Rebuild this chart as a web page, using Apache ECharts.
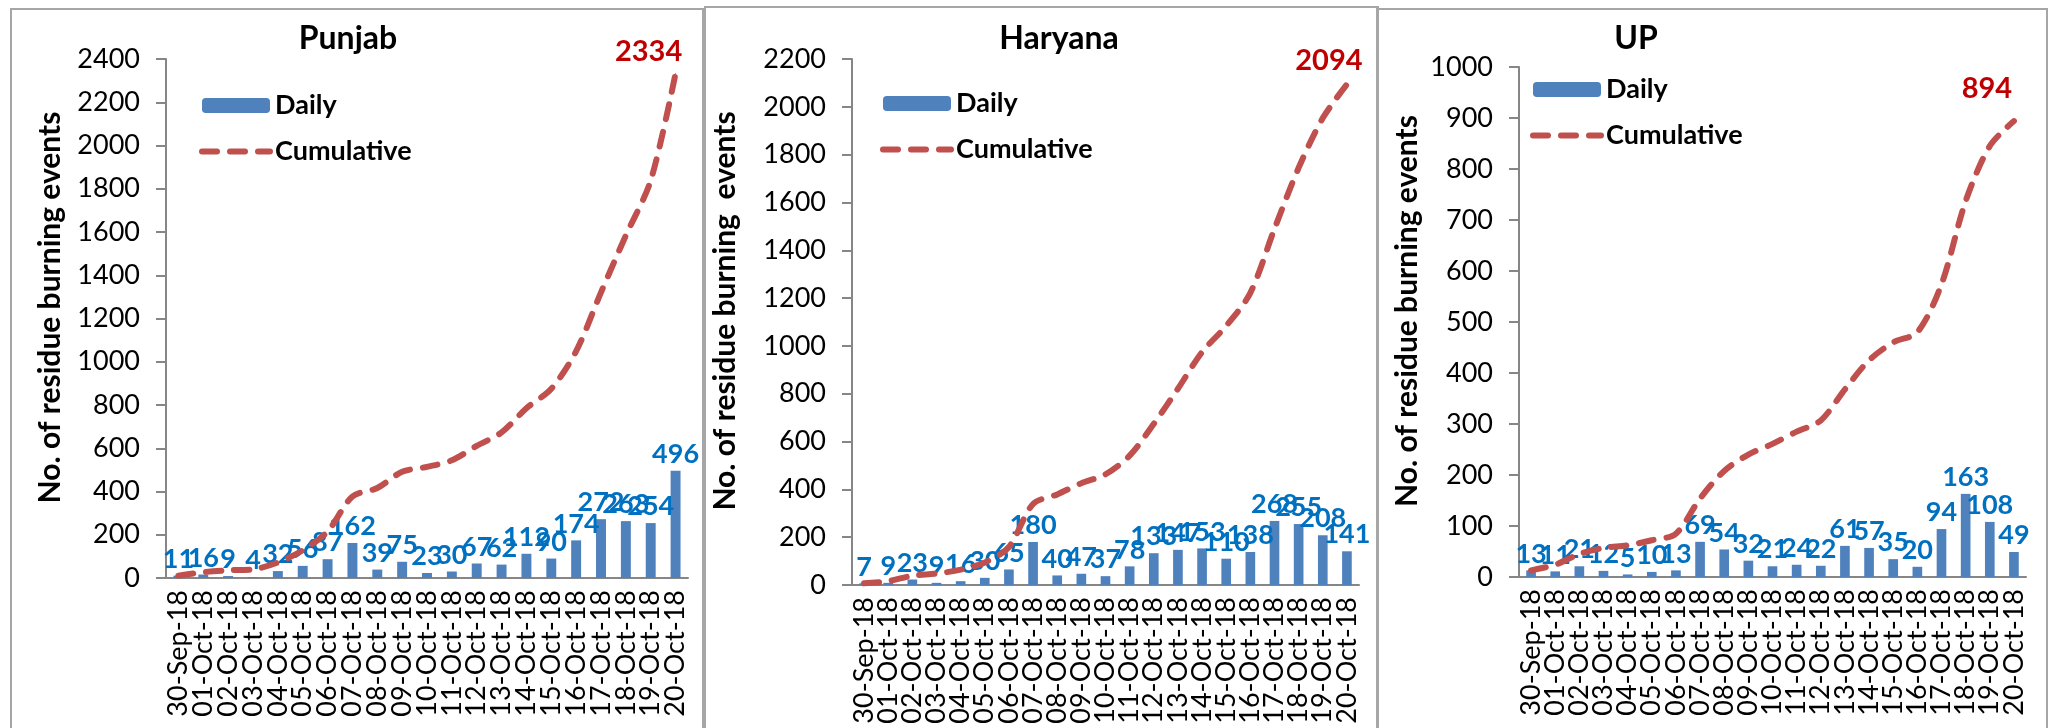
<!DOCTYPE html>
<html lang="en">
<head>
<meta charset="UTF-8">
<title>Residue burning events</title>
<script src="https://cdn.jsdelivr.net/npm/echarts@6/dist/echarts.min.js"></script>
<style>
	html, body { margin: 0; padding: 0; background: #fff; }
	#myChart { width: 2053px; height: 728px; }
</style>
</head>
<body>
<div id="myChart"></div>
<script>
	// x axis dates (same for all three states)
	var dates = ['30-Sep-18', '01-Oct-18', '02-Oct-18', '03-Oct-18', '04-Oct-18', '05-Oct-18', '06-Oct-18',
		'07-Oct-18', '08-Oct-18', '09-Oct-18', '10-Oct-18', '11-Oct-18', '12-Oct-18', '13-Oct-18',
		'14-Oct-18', '15-Oct-18', '16-Oct-18', '17-Oct-18', '18-Oct-18', '19-Oct-18', '20-Oct-18'];

	// daily events
	var punjabDaily = [11, 16, 9, 4, 32, 56, 87, 162, 39, 75, 23, 30, 67, 62, 112, 90, 174, 272, 263, 254, 496];
	var haryanaDaily = [7, 9, 23, 9, 16, 30, 65, 180, 40, 47, 37, 78, 133, 147, 153, 110, 138, 268, 255, 208, 141];
	var upDaily = [13, 11, 21, 12, 5, 10, 13, 69, 54, 32, 21, 24, 22, 61, 57, 35, 20, 94, 163, 108, 49];

	// cumulative events
	var punjabCumulative = [11, 27, 36, 40, 72, 128, 215, 377, 416, 491, 514, 544, 611, 673, 785, 875, 1049, 1321, 1584, 1838, 2334];
	var haryanaCumulative = [7, 16, 39, 48, 64, 94, 159, 339, 379, 426, 463, 541, 674, 821, 974, 1084, 1222, 1490, 1745, 1953, 2094];
	var upCumulative = [13, 24, 45, 57, 62, 72, 85, 154, 208, 240, 261, 285, 307, 368, 425, 460, 480, 574, 737, 845, 894];

	// y axis ranges
	var axisMax = [2400, 2200, 1000];
	var axisStep = [200, 200, 100];

	var titles = ['Punjab', 'Haryana', 'UP'];
	var yNames = ['No. of residue burning events', 'No. of residue burning  events', 'No. of residue burning events'];

	var FONT = 'Lato';
	var axisGray = '#868686';
	var lineRed = '#c0504d';

	// layout of each panel
	var panels = [
		{ box: [11, 9, 692, 740], titleX: 343, grid: { left: 166, top: 59, width: 522, height: 519 }, nameGap: 101, legend: { left: 199, top: 92 }, endOffset: [-27, 0], endDist: 7 },
		{ box: [705, 7, 673, 740], titleX: 1054, grid: { left: 852, top: 59, width: 507, height: 526 }, nameGap: 112, legend: { left: 880, top: 90 }, endOffset: [-18, 0], endDist: 9 },
		{ box: [1377, 9, 670, 740], titleX: 1631, grid: { left: 1519, top: 67, width: 507, height: 510 }, nameGap: 97, legend: { left: 1530, top: 76 }, endOffset: [-27, 0], endDist: 17 }
	];
	var dailyArr = [punjabDaily, haryanaDaily, upDaily];
	var cumArr = [punjabCumulative, haryanaCumulative, upCumulative];

	var grids = [], xAxes = [], yAxes = [], series = [], legends = [], titleArr = [], graphics = [];

	for (var i = 0; i < 3; i++) {
		var p = panels[i];
		// panel frame
		graphics.push({
			type: 'rect',
			shape: { x: p.box[0], y: p.box[1], width: p.box[2], height: p.box[3] },
			style: { fill: 'none', stroke: '#a6a6a6', lineWidth: 2 },
			silent: true
		});
		titleArr.push({
			text: titles[i],
			left: p.titleX,
			top: 18,
			textAlign: 'center',
			textStyle: { fontFamily: FONT, fontSize: 32, fontWeight: 'bold', color: '#000' }
		});
		grids.push(p.grid);
		xAxes.push({
			type: 'category',
			gridIndex: i,
			data: dates,
			axisLine: { lineStyle: { color: axisGray, width: 2 } },
			axisTick: { length: 9, lineStyle: { color: axisGray, width: 2 } },
			axisLabel: { rotate: 90, interval: 0, margin: 12, fontFamily: FONT, fontSize: 27, color: '#000' }
		});
		yAxes.push({
			type: 'value',
			gridIndex: i,
			min: 0,
			max: axisMax[i],
			interval: axisStep[i],
			name: yNames[i],
			nameLocation: 'middle',
			nameGap: p.nameGap,
			nameTextStyle: { fontFamily: FONT, fontSize: 30, fontWeight: 'bold', color: '#000', padding: [0, 0, 0, 22] },
			axisLine: { show: true, lineStyle: { color: axisGray, width: 2 } },
			axisTick: { show: true, length: 10, lineStyle: { color: axisGray, width: 2 } },
			splitLine: { show: false },
			axisLabel: {
				margin: 26, fontFamily: FONT, fontSize: 27, color: '#000',
				formatter: function (v) { return String(v); }
			}
		});
		legends.push({
			data: ['Daily', { name: 'Cumulative', itemStyle: { opacity: 0 }, lineStyle: { width: 6 } }],
			orient: 'vertical',
			left: p.legend.left,
			top: p.legend.top,
			padding: 0,
			itemWidth: 68,
			itemHeight: 15,
			itemGap: 19,
			selectedMode: false,
			textStyle: { fontFamily: FONT, fontSize: 27, fontWeight: 'bold', color: '#000' }
		});
		series.push({
			name: 'Daily',
			type: 'bar',
			xAxisIndex: i,
			yAxisIndex: i,
			barWidth: '40%',
			data: dailyArr[i],
			itemStyle: { color: '#4f81bd' },
			label: {
				show: true,
				position: 'top',
				distance: 3,
				fontFamily: FONT,
				fontSize: 27,
				fontWeight: 'bold',
				color: '#0070c0'
			}
		});
		var cum = cumArr[i];
		var endLabel = {
			show: true, position: 'top', offset: p.endOffset, distance: p.endDist,
			fontFamily: FONT, fontSize: 29, fontWeight: 'bold', color: '#c00000'
		};
		series.push({
			name: 'Cumulative',
			type: 'line',
			xAxisIndex: i,
			yAxisIndex: i,
			smooth: 0.3,
			symbol: 'none',
			itemStyle: { color: lineRed },
			lineStyle: { color: lineRed, width: 6, type: [15, 13], cap: 'round' },
			data: cum.map(function (v, k) {
				// only the last point carries the total label
				if (k === cum.length - 1) {
					return { value: v, symbol: 'circle', symbolSize: 1, label: endLabel };
				}
				return v;
			}),
			z: 3
		});
	}

	var myChart = echarts.init(document.getElementById('myChart'));
	myChart.setOption({
		animation: false,
		title: titleArr,
		legend: legends,
		grid: grids,
		xAxis: xAxes,
		yAxis: yAxes,
		series: series,
		graphic: graphics
	});
</script>
</body>
</html>
